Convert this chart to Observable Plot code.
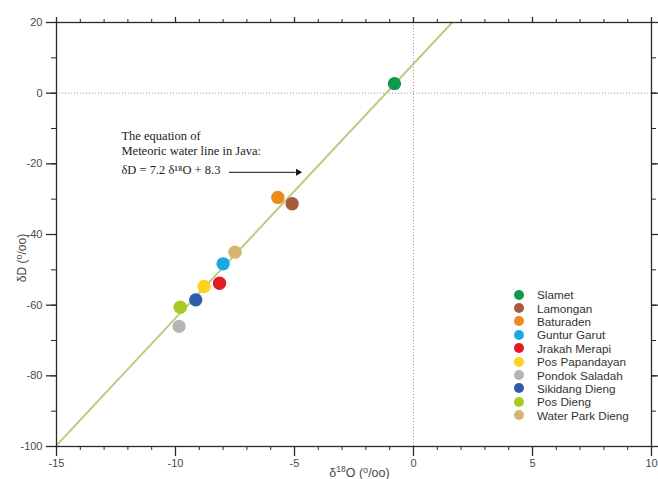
<!DOCTYPE html>
<html>
<head>
<meta charset="utf-8">
<script src="https://cdn.jsdelivr.net/npm/d3@7"></script>
<script src="https://cdn.jsdelivr.net/npm/@observablehq/plot@0.6"></script>
<style>
  html, body { margin: 0; padding: 0; background: #fff; }
  #wrap { position: relative; width: 658px; height: 479px; }
  #legend { position: absolute; left: 513px; top: 288px; font-family: "Liberation Sans", Arial, sans-serif; font-size: 11.7px; color: #333; }
  #legend .row { display: flex; align-items: center; height: 13.4px; white-space: nowrap; }
  #legend .sw { width: 10px; height: 10px; border-radius: 50%; margin-right: 13px; margin-left: 1px; }
</style>
</head>
<body>
<div id="wrap"><div id="legend"></div></div>
<script>
// Sampling sites
const names = ["Slamet", "Lamongan", "Baturaden", "Guntur Garut", "Jrakah Merapi", "Pos Papandayan", "Pondok Saladah", "Sikidang Dieng", "Pos Dieng", "Water Park Dieng"];
const d18O = [-0.8, -5.1, -5.7, -8.0, -8.15, -8.8, -9.85, -9.15, -9.8, -7.5];
const dD = [2.7, -31.3, -29.5, -48.3, -53.8, -54.7, -66.0, -58.5, -60.6, -45.0];
const colors = ["#0d9a4b", "#a85a3c", "#ec8a1a", "#1ea8e2", "#e21b22", "#ffd21c", "#b5b5b5", "#2f5ca8", "#a8c822", "#d6b56e"];

// Meteoric water line endpoints (dD = 7.2 d18O + 8.3)
const mwlX = [-15, 1.625];
const mwlY = [-99.7, 20];

// Ticks
const xMajor = [-15, -10, -5, 0, 5, 10];
const xMinor = d3.range(-15, 10.5, 1);
const yMajor = [-100, -80, -60, -40, -20, 0, 20];
const yMinor = d3.range(-100, 20.5, 10);

// Annotation
const noteLines = ["The equation of\nMeteoric water line in Java:"];
const noteX = [-12.27];
const noteY = [-17.64];
const eqText = ["δD = 7.2 δ¹⁸O + 8.3"];
const eqY = [-22.8];
const arrowX1 = [-7.75], arrowX2 = [-4.95], arrowHeadX = [-4.85], arrowY = [-22.4];

const pts = names.map((n, i) => ({name: n, x: d18O[i], y: dD[i]}));
const mwl = mwlX.map((x, i) => ({x, y: mwlY[i]}));

const axisCol = "#2a2a2a";
const textCol = "#4a4a4a";
const fmt = d => String(d);

const plot = Plot.plot({
  width: 658,
  height: 479,
  marginLeft: 56,
  marginRight: 7,
  marginTop: 22,
  marginBottom: 33,
  style: {fontFamily: "'Liberation Sans', Arial, sans-serif", fontSize: "11px", background: "#fff"},
  x: {domain: [-15, 10]},
  y: {domain: [-100, 20]},
  color: {domain: names, range: colors},
  marks: [
    Plot.ruleX([0], {stroke: "#9a9a9a", strokeWidth: 1, strokeDasharray: "1,2"}),
    Plot.ruleY([0], {stroke: "#9a9a9a", strokeWidth: 1, strokeDasharray: "1,2"}),
    Plot.line(mwl, {x: "x", y: "y", stroke: "#bccb86", strokeWidth: 2}),
    Plot.dot(pts, {x: "x", y: "y", fill: "name", r: 6.7, stroke: "none"}),
    Plot.text(noteLines, {x: noteX, y: noteY, text: d => d, textAnchor: "start", lineAnchor: "bottom", lineHeight: 1.24, fontFamily: "'Liberation Serif', 'Times New Roman', serif", fontSize: 12.5, fill: "#222"}),
    Plot.text(eqText, {x: noteX, y: eqY, text: d => d, textAnchor: "start", lineAnchor: "bottom", fontFamily: "'Liberation Serif', 'Times New Roman', serif", fontSize: 12.5, fill: "#222"}),
    Plot.link(arrowX1, {x1: d => d, x2: (d, i) => arrowX2[i], y1: (d, i) => arrowY[i], y2: (d, i) => arrowY[i], stroke: "#111", strokeWidth: 1}),
    Plot.dot(arrowHeadX, {x: d => d, y: (d, i) => arrowY[i], symbol: "triangle", rotate: 90, r: 2.6, fill: "#111", stroke: "none"}),
    Plot.frame({stroke: axisCol, strokeWidth: 1.3}),
    Plot.axisX({anchor: "bottom", ticks: xMajor, tickFormat: fmt, tickSize: 10, tickPadding: 3, label: null, stroke: axisCol, fill: textCol, strokeWidth: 1.3}),
    Plot.axisX({anchor: "bottom", ticks: xMinor, tickSize: 4, text: null, label: null, stroke: axisCol}),
    Plot.axisX({anchor: "top", ticks: xMajor, tickSize: 6, text: null, label: null, stroke: axisCol, strokeWidth: 1.3}),
    Plot.axisX({anchor: "top", ticks: xMinor, tickSize: 4, text: null, label: null, stroke: axisCol}),
    Plot.axisY({anchor: "left", ticks: yMajor, tickFormat: fmt, tickSize: 10, tickPadding: 4, label: null, stroke: axisCol, fill: textCol, strokeWidth: 1.3}),
    Plot.axisY({anchor: "left", ticks: yMinor, tickSize: 5, text: null, label: null, stroke: axisCol}),
    Plot.axisY({anchor: "right", ticks: yMajor, tickSize: 7, text: null, label: null, stroke: axisCol, strokeWidth: 1.3}),
    Plot.axisY({anchor: "right", ticks: yMinor, tickSize: 4, text: null, label: null, stroke: axisCol})
  ]
});

// Axis titles with superscripts
const sx = plot.scale("x"), sy = plot.scale("y");
const cx = (sx.range[0] + sx.range[1]) / 2;
const cy = (sy.range[0] + sy.range[1]) / 2;
const svg = d3.select(plot);
const xl = svg.append("text")
  .attr("x", cx + 6).attr("y", 477)
  .attr("text-anchor", "middle").attr("fill", textCol)
  .attr("font-size", 12.5).attr("font-family", "'Liberation Sans', Arial, sans-serif");
xl.append("tspan").text("δ");
xl.append("tspan").attr("dy", -5).attr("font-size", 8.5).text("18");
xl.append("tspan").attr("dy", 5).text("O (");
xl.append("tspan").attr("dy", -4).attr("font-size", 9).text("o");
xl.append("tspan").attr("dy", 4).text("/oo)");

const yl = svg.append("text")
  .attr("transform", `translate(26,${cy + 24}) rotate(-90)`)
  .attr("text-anchor", "middle").attr("fill", textCol)
  .attr("font-size", 12).attr("font-family", "'Liberation Sans', Arial, sans-serif");
yl.append("tspan").text("δD (");
yl.append("tspan").attr("dy", -4).attr("font-size", 9).text("o");
yl.append("tspan").attr("dy", 4).text("/oo)");

document.getElementById("wrap").prepend(plot);

// Legend
const lg = d3.select("#legend");
names.forEach((n, i) => {
  const row = lg.append("div").attr("class", "row");
  row.append("div").attr("class", "sw").style("background", colors[i]);
  row.append("span").text(n);
});
</script>
</body>
</html>
